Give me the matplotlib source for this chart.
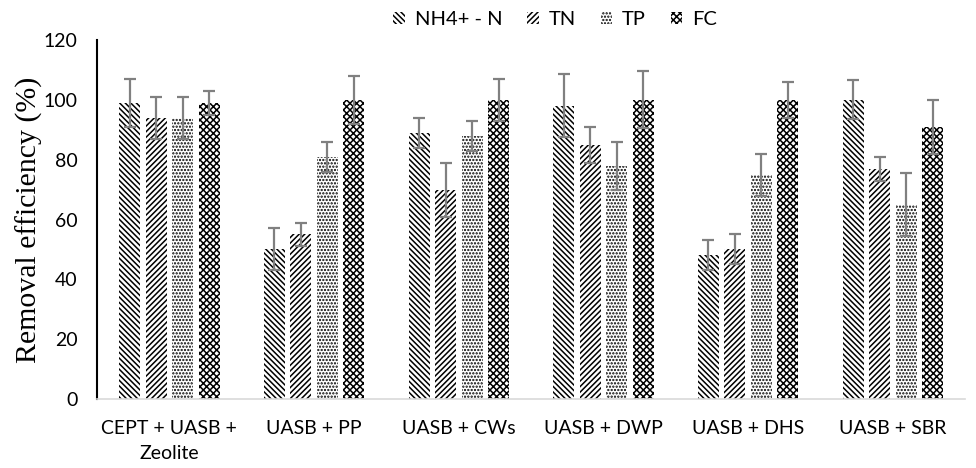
import numpy as np
import matplotlib
matplotlib.use("Agg")
import matplotlib.pyplot as plt

# ── data ──────────────────────────────────────────────────────────────────────
systems = ["CEPT + UASB +\nZeolite", "UASB + PP", "UASB + CWs",
           "UASB + DWP", "UASB + DHS", "UASB + SBR"]
series = ["NH4+ - N", "TN", "TP", "FC"]

nh4 = [99, 50, 89, 98, 48, 100]
tn = [94, 55, 70, 85, 50, 77]
tp = [94, 81, 88, 78, 75, 65]
fc = [99, 100, 100, 100, 100, 91]

nh4_err = [8, 7, 5, 10.5, 5, 6.5]
tn_err = [7, 4, 9, 6, 5, 4]
tp_err = [7, 5, 5, 8, 7, 10.5]
fc_err = [4, 8, 7, 9.5, 6, 9]

values = [nh4, tn, tp, fc]
errors = [nh4_err, tn_err, tp_err, fc_err]
hatches = ["\\" * 6, "/" * 6, "." * 5, "x" * 5]

plt.rcParams["hatch.linewidth"] = 1.1
plt.rcParams["hatch.color"] = "black"

fig = plt.figure(figsize=(9.76, 4.68), dpi=100)
ax = fig.add_axes([0.0994, 0.1474, 0.8896, 0.7671])

x = np.arange(len(systems))
width = 0.145
step = 0.183

for i, (vals, errs, h, name) in enumerate(zip(values, errors, hatches, series)):
    pos = x + (i - 1.5) * step
    ax.bar(pos, vals, width, facecolor="white", edgecolor="black",
           linewidth=0, hatch=h, label=name, zorder=2)
    ax.errorbar(pos, vals, yerr=errs, fmt="none", ecolor="#808080",
                elinewidth=1.6, capsize=4.5, capthick=1.6, zorder=3)

ax.set_xlim(-0.5, len(systems) - 0.5)
ax.set_ylim(0, 120)
ax.set_yticks(range(0, 121, 20))
ax.set_xticks(x)
ax.set_xticklabels(systems, fontsize=14, family="Lato", linespacing=1.55)
for lab in ax.get_yticklabels():
    lab.set_fontsize(14)
    lab.set_family("Lato")
ax.tick_params(axis="x", length=0, pad=15)
ax.tick_params(axis="y", length=0, pad=14)

ax.set_ylabel("Removal efficiency (%)", fontsize=21.5, family="Liberation Serif")
ax.yaxis.set_label_coords(-0.062, 0.5)

for s in ("top", "right"):
    ax.spines[s].set_visible(False)
ax.spines["left"].set_color("black")
ax.spines["left"].set_linewidth(1.5)
ax.spines["bottom"].set_color("#d9d9d9")
ax.spines["bottom"].set_linewidth(1.2)

leg = fig.legend(loc="upper center", bbox_to_anchor=(0.569, 1.015), ncol=4,
                 frameon=False, prop={"family": "Lato", "size": 14.5},
                 handlelength=0.55, handleheight=0.6, columnspacing=1.25,
                 handletextpad=0.5)

fig.savefig("out.png", dpi=100)
